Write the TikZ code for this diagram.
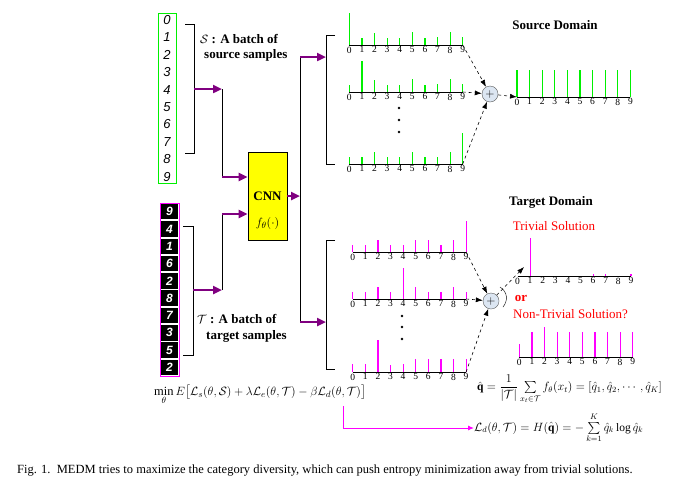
\documentclass[tikz,border=0pt]{standalone}
\usepackage{fontspec}
\setmainfont{Liberation Serif}
\setsansfont{Liberation Sans}
\usepackage{amsmath}
\usetikzlibrary{arrows.meta,positioning,calc}
\definecolor{bgreen}{HTML}{00F000}
\definecolor{bmag}{HTML}{FF00FF}
\definecolor{dpurple}{HTML}{800080}
\definecolor{bred}{HTML}{FF0000}
\definecolor{plusfill}{HTML}{DCE6F2}
\definecolor{cnnyellow}{HTML}{FFFF00}
\tikzset{
 bar/.style={line width=1.2pt},
 axisline/.style={line width=0.9pt,black},
 digit/.style={anchor=north,inner sep=0.3pt,font=\fontsize{9.5}{9.5}\selectfont},
 parrow/.style={-{Triangle[length=9pt,width=8pt]},line width=2.6pt,draw=dpurple},
 dasharrow/.style={-{Latex[length=7pt,width=5pt]},dashed,line width=0.6pt},
 bracket/.style={line width=0.9pt},
 plusnode/.style={circle,draw=gray!70!black,fill=plusfill,minimum size=16pt,inner sep=0pt,font=\fontsize{12}{12}\selectfont},
 boldtext/.style={inner sep=0pt,font=\fontsize{13}{15}\selectfont\bfseries},
 redtext/.style={inner sep=0pt,text=bred,font=\fontsize{13}{15}\selectfont},
 sdigit/.style={inner sep=0pt,font=\fontsize{13}{13}\selectfont\sffamily\itshape},
 tdigit/.style={fill=black,text=white,minimum width=17pt,minimum height=15.5pt,inner sep=0pt,
   font=\fontsize{12}{12}\selectfont\sffamily\bfseries\itshape},
 cnnbox/.style={draw=black,fill=cnnyellow,line width=0.8pt,minimum width=39pt,minimum height=88pt,inner sep=0pt},
 eqtext/.style={inner sep=0pt,font=\fontsize{11.5}{13}\selectfont},
 magline/.style={draw=bmag,line width=0.9pt,-{Latex[length=6pt,width=5pt]}}
}
% histogram: name, x of first bin, axis y, colour, bar heights
\newcommand{\histo}[5]{%
  \coordinate (#1-0) at (#2,#3);
  \coordinate (#1-9) at ({#2+9*12.6},#3);
  \foreach \h [count=\i from 0] in {#5}{
    \draw[bar,#4] ({#2+\i*12.6},#3) -- ++(0,-\h);
    \node[digit] (#1-l\i) at ({#2+\i*12.6},{#3+1.2}) {\i};
  }
  \draw[axisline] (#1-0) -- (#1-9);
}

\begin{document}
\begin{tikzpicture}[x=1pt,y=-1pt]
 \useasboundingbox (0,0) rectangle (682,488);

 % source samples
 \node[draw=bgreen,line width=1pt,minimum width=18pt,minimum height=170pt,inner sep=0pt] (scol) at (167,98) {};
 \foreach \i in {0,...,9}
   \node[sdigit] (s\i) at (167,{20+\i*17.4}) {\i};
 \draw[bracket] (185,24) -| (194,153) -- (185,153);
 \node[boldtext,anchor=west] (slab1) at (200,39) {$\mathcal{S}$ : A batch of};
 \node[boldtext,anchor=west] (slab2) at (204,55) {source samples};

 % target samples
 \node[draw=bmag,line width=1pt,minimum width=19pt,minimum height=173pt,inner sep=0pt] (tcol) at (169.5,289.5) {};
 \foreach \d [count=\i from 0] in {9,4,1,6,2,8,7,3,5,2}
   \node[tdigit] (t\i) at (169.5,{211.7+\i*17.3}) {\d};
 \draw[bracket] (183,226) -| (193,355) -- (183,355);
 \node[boldtext,anchor=west] (tlab1) at (197,319) {$\mathcal{T}$ : A batch of};
 \node[boldtext,anchor=west] (tlab2) at (206,336) {target samples};

 % CNN
 \node[cnnbox] (cnn) at (267.5,196) {};
 \node[boldtext] (cnntxt) at (267.5,196) {CNN};
 \node[eqtext,font=\fontsize{13}{15}\selectfont] (ftxt) at (267.5,223) {$f_\theta(\cdot)$};

 \coordinate (sbr) at (194,89);
 \coordinate (sjoin) at (222,89);
 \coordinate (sin) at (222,177);
 \draw[parrow] (sbr) -- (sjoin);
 \draw (sjoin) -- (sin);
 \draw[parrow] (sin) -- (sin -| cnn.west);
 \coordinate (tbr) at (193,290);
 \coordinate (tjoin) at (222,290);
 \coordinate (tin) at (222,214);
 \draw[parrow] (tbr) -- (tjoin);
 \draw (tjoin) -- (tin);
 \draw[parrow] (tin) -- (tin -| cnn.west);

 \coordinate (cout) at (300,196);
 \coordinate (sfork) at (300,57);
 \coordinate (tfork) at (300,322);
 \coordinate (sbrk) at (326,57);
 \coordinate (tbrk) at (326,322);
 \draw[parrow] (cnn.east |- cout) -- (cout);
 \draw (sfork) -- (tfork);
 \draw[parrow] (sfork) -- (sbrk);
 \draw[parrow] (tfork) -- (tbrk);
 \draw[bracket] (335,35) -| (326,164) -- (335,164);
 \draw[bracket] (335,240) -| (326,369) -- (335,369);

 % source domain
 \histo{sr1}{349.3}{45}{bgreen}{32,7,12,7,7,13,7,8,13,8}
 \histo{sr2}{349.3}{92}{bgreen}{7,31,12,7,7,13,7,8,13,8}
 \histo{sr3}{349.3}{164}{bgreen}{7,7,12,7,7,12,7,7,12,31}
 \foreach \y in {108,120,132}
   \fill (399,\y) circle (1.4);
 \histo{sres}{517}{97}{bgreen}{27,27,27,27,27,27,27,27,27,27}
 \node[plusnode] (splus) at (490,94) {$+$};
 \draw[dasharrow] (sr1-9) -- (splus);
 \draw[dasharrow] (sr2-9) -- (splus);
 \draw[dasharrow] (sr3-9) -- (splus);
 \draw[dasharrow] (splus) -- (sres-0);
 \node[boldtext] (sdom) at (555,25) {Source Domain};

 % target domain
 \histo{tr1}{352.7}{252}{bmag}{7,7,12,7,7,12,12,7,12,31}
 \histo{tr2}{352.7}{299}{bmag}{7,7,12,7,31,12,7,7,12,7}
 \histo{tr3}{352.7}{372}{bmag}{8,8,32,7,8,13,13,13,13,13}
 \foreach \y in {316,327,339}
   \fill (402,\y) circle (1.4);
 \node[plusnode] (tplus) at (491,301) {$+$};
 \draw[dasharrow] (tr1-9) -- (tplus);
 \draw[dasharrow] (tr2-9) -- (tplus);
 \draw[dasharrow] (tr3-9) -- (tplus);
 \coordinate (trivtip) at (524,267);
 \draw[dasharrow] (tplus) -- (trivtip);
 \draw (500,287) .. controls (508,292) and (508,301) .. (503,307);
 \node[boldtext] (tdom) at (551,202) {Target Domain};
 \node[redtext] (trivlab) at (554,226) {Trivial Solution};
 \histo{triv}{517.5}{276}{bmag}{0,38,0,0,0,0,2,2,0,2}
 \node[redtext,font=\fontsize{13}{15}\selectfont\bfseries] (orlab) at (521,298) {or};
 \node[redtext,anchor=west] (ntrivlab) at (513,314) {Non-Trivial Solution?};
 \histo{ntriv}{519.3}{357}{bmag}{13,25,30,25,25,25,25,25,25,25}

 % objective
 \node[eqtext,font=\fontsize{12.5}{14}\selectfont,anchor=west] (mineq) at (154,395)
   {$\min\limits_{\theta} E\bigl[\mathcal{L}_s(\theta,\mathcal{S})+\lambda\mathcal{L}_e(\theta,\mathcal{T})-\beta\mathcal{L}_d(\theta,\mathcal{T})\bigr]$};
 \node[eqtext,anchor=west] (qeq) at (477,389)
   {$\hat{\mathbf{q}}=\dfrac{1}{|\mathcal{T}|}\sum\limits_{x_t\in\mathcal{T}} f_\theta(x_t)=[\hat{q}_1,\hat{q}_2,\cdots,\hat{q}_K]$};
 \node[eqtext,anchor=west] (ldeq) at (474,428)
   {$\mathcal{L}_d(\theta,\mathcal{T})=H(\hat{\mathbf{q}})=-\sum\limits_{k=1}^{K}\hat{q}_k\log\hat{q}_k$};
 \coordinate (ldmark) at (343,406);
 \draw[magline] (ldmark) |- (ldeq.west);

 \node[anchor=west,inner sep=0pt,font=\fontsize{12.5}{14}\selectfont] (caption) at (17,470)
   {Fig. 1.\enspace MEDM tries to maximize the category diversity, which can push entropy minimization away from trivial solutions.};
\end{tikzpicture}
\end{document}
